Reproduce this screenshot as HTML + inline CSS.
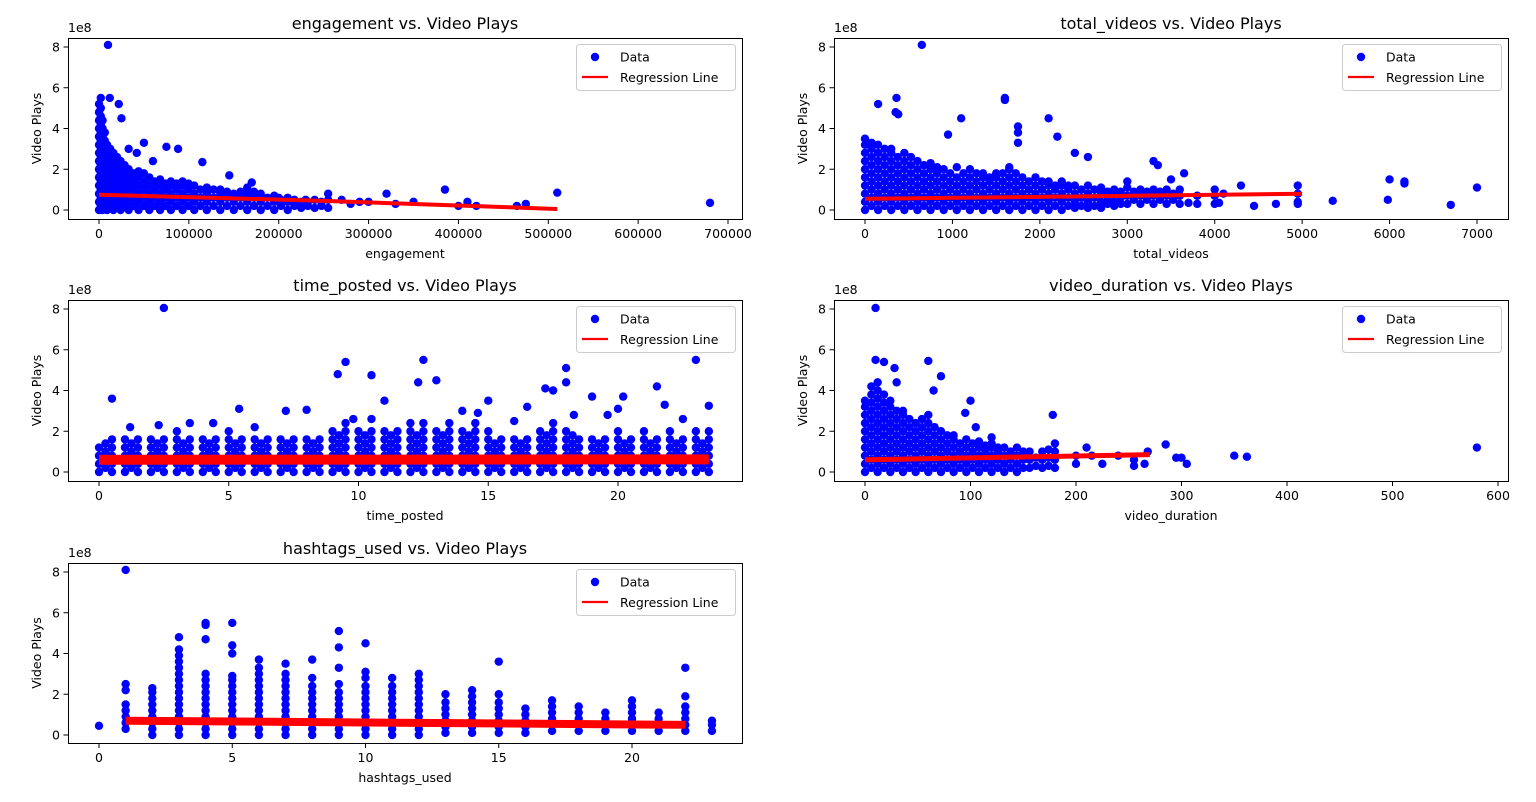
<!DOCTYPE html>
<html><head><meta charset="utf-8">
<style>
html,body{margin:0;padding:0;background:#fff;}
svg{display:block;font-family:"DejaVu Sans","Liberation Sans",sans-serif;}
</style></head>
<body>
<svg id="fig" width="1536" height="802" viewBox="0 0 1536 802" xmlns="http://www.w3.org/2000/svg"></svg>
<script>
// ---------- data (y in units of 1e8) ----------
// Plot 1: engagement
const p1Cols = [
 [0,[0,.4,.8,1.2,1.6,2,2.4,2.8,3.2,3.6,4,4.4,4.8,5.2]],
 [4000,[0,.4,.8,1.2,1.6,2,2.4,2.8,3.2,3.6,4,4.4]],
 [9000,[0,.4,.8,1.2,1.6,2,2.4,2.8,3.2]],
 [16000,[0,.4,.8,1.2,1.6,2,2.4,2.8]],
 [24000,[0,.4,.8,1.2,1.6,2,2.4]],
 [33000,[0,.4,.8,1.2,1.6,2]],
 [44000,[0,.4,.8,1.2,1.6,1.9]],
 [56000,[0,.4,.8,1.2,1.6]],
 [68000,[0,.4,.8,1.2,1.5]],
 [80000,[0,.4,.8,1.2,1.4]],
 [93000,[0,.4,.8,1.2,1.4]],
 [106000,[0,.4,.8,1.2]],
 [120000,[0,.4,.8,1.1]],
 [135000,[0,.4,.8,1.0]],
 [150000,[0,.4,.8]],
 [165000,[0,.4,.8,1.1]],
 [180000,[0,.4,.8]],
 [195000,[0,.4,.7]],
 [210000,[0,.4,.6]],
 [225000,[.1,.4]],
 [240000,[.1,.5]],
 [255000,[.1,.5,.8]]
];
const p1Fill = [
 [2000,[.2,.6,1,1.4,1.8,2.2,2.6,3,3.4,3.8,4.2,4.6,5]],
 [6500,[.2,.6,1,1.4,1.8,2.2,2.6,3,3.4,3.8]],
 [12500,[.2,.6,1,1.4,1.8,2.2,2.6,3]],
 [20000,[.2,.6,1,1.4,1.8,2.2,2.6]],
 [28500,[.2,.6,1,1.4,1.8,2.2]],
 [38500,[.2,.6,1,1.4,1.8]],
 [50000,[.2,.6,1,1.4,1.8]],
 [62000,[.2,.6,1,1.4]],
 [74000,[.2,.6,1,1.3]],
 [86500,[.2,.6,1,1.3]],
 [99500,[.2,.6,1,1.3]],
 [113000,[.2,.6,1]],
 [127500,[.2,.6,1]],
 [142500,[.2,.6,.9]],
 [157500,[.2,.6,.9]],
 [172500,[.2,.6,.9]],
 [187500,[.2,.6]],
 [202500,[.2,.5]],
 [217500,[.2,.5]],
 [232500,[.2,.4]],
 [247500,[.2,.4]]
];
const p1Out = [[10000,8.1],[2000,5.5],[12000,5.5],[22000,5.2],[25000,4.5],[50000,3.3],[42000,2.8],[33000,3.0],[75000,3.1],[88000,3.0],[115000,2.35],[60000,2.4],[145000,1.7],[170000,1.35],[280000,0.3],[300000,0.4],[320000,0.8],[350000,0.4],[385000,1.0],[400000,0.2],[410000,0.4],[420000,0.2],[465000,0.2],[475000,0.3],[510000,0.85],[680000,0.35],[230000,0.5],[200000,0.6],[270000,0.5],[330000,0.3],[290000,0.4]];
const p1RegX = [0,250000,510000];
const p1RegY = [0.75,0.45,0.05];

// Plot 2: total_videos
const p2Cols = [
 [0,[0,.4,.8,1.2,1.6,2,2.4,2.8,3.2,3.5]],
 [150,[0,.4,.8,1.2,1.6,2,2.4,2.8,3.2]],
 [300,[0,.4,.8,1.2,1.6,2,2.4,2.8,3.0]],
 [450,[0,.4,.8,1.2,1.6,2,2.4,2.8]],
 [600,[0,.4,.8,1.2,1.6,2,2.4]],
 [750,[0,.4,.8,1.2,1.6,2,2.3]],
 [900,[0,.4,.8,1.2,1.6,2]],
 [1050,[0,.4,.8,1.2,1.6,2.1]],
 [1200,[0,.4,.8,1.2,1.6,2]],
 [1350,[0,.4,.8,1.2,1.6,1.8]],
 [1500,[0,.4,.8,1.2,1.6,1.8]],
 [1650,[0,.4,.8,1.2,1.6,2,2.1]],
 [1800,[0,.4,.8,1.2,1.6]],
 [1950,[0,.4,.8,1.2,1.6]],
 [2100,[0,.4,.8,1.2,1.4]],
 [2250,[0,.4,.8,1.2,1.4]],
 [2400,[.1,.4,.8,1.2]],
 [2550,[.1,.4,.8,1.2]],
 [2700,[.1,.4,.8,1.1]],
 [2850,[.2,.4,.8,1.0]],
 [3000,[.3,.7,1.1,1.4]],
 [3150,[.3,.7,1.0]],
 [3300,[.3,.7,1.0]],
 [3450,[.3,.7,1.0]],
 [3600,[.3,.7,1.0]],
 [3800,[.3,.7]],
 [4000,[.3,.7,1.0]],
 [4950,[.4,.8,1.2]]
];
const p2Fill = [
 [75,[.2,.6,1,1.4,1.8,2.2,2.6,3,3.3]],
 [225,[.2,.6,1,1.4,1.8,2.2,2.6,3]],
 [375,[.2,.6,1,1.4,1.8,2.2,2.6]],
 [525,[.2,.6,1,1.4,1.8,2.2,2.6]],
 [675,[.2,.6,1,1.4,1.8,2.2]],
 [825,[.2,.6,1,1.4,1.8,2.1]],
 [975,[.2,.6,1,1.4,1.8]],
 [1125,[.2,.6,1,1.4,1.8]],
 [1275,[.2,.6,1,1.4,1.8]],
 [1425,[.2,.6,1,1.4,1.6]],
 [1575,[.2,.6,1,1.4,1.8]],
 [1725,[.2,.6,1,1.4,1.8]],
 [1875,[.2,.6,1,1.4]],
 [2025,[.2,.6,1,1.4]],
 [2175,[.2,.6,1,1.2]],
 [2325,[.2,.6,1,1.2]],
 [2475,[.2,.6,1]],
 [2625,[.2,.6,1]],
 [2775,[.3,.6,.9]],
 [2925,[.3,.6,.9]],
 [3075,[.5,.9]],
 [3225,[.5,.9]],
 [3375,[.5,.9]],
 [3525,[.5,.8]]
];
const p2Out = [[650,8.1],[360,5.5],[1600,5.4],[1600,5.5],[1100,4.5],[2100,4.5],[350,4.8],[150,5.2],[380,4.7],[950,3.7],[2200,3.6],[1750,4.1],[1750,3.8],[1750,3.3],[2400,2.8],[2550,2.6],[3300,2.4],[3350,2.2],[3500,1.5],[3650,1.8],[4300,1.2],[4450,0.2],[4700,0.3],[4950,0.3],[5350,0.45],[6000,1.5],[5980,0.5],[6170,1.4],[6170,1.3],[6700,0.25],[7000,1.1],[3700,0.35],[4050,0.35],[4100,0.8]];
const p2RegX = [0,2500,5000];
const p2RegY = [0.55,0.67,0.8];

// Plot 3: time_posted
const p3Cols = [
 [0,[0,.4,.8,1.2]],[0.5,[0,.4,.8,1.2,1.6]],[1,[0,.4,.8,1.2,1.6]],[1.5,[0,.4,.8,1.2,1.6]],
 [2,[0,.4,.8,1.2,1.6]],[2.5,[0,.4,.8,1.2,1.6]],[3,[0,.4,.8,1.2,1.6,2]],[3.5,[0,.4,.8,1.2,1.6]],
 [4,[0,.4,.8,1.2,1.6]],[4.5,[0,.4,.8,1.2,1.6]],[5,[0,.4,.8,1.2,1.6,2]],[5.5,[0,.4,.8,1.2,1.6]],
 [6,[0,.4,.8,1.2,1.6]],[6.5,[0,.4,.8,1.2,1.6]],[7,[0,.4,.8,1.2,1.6]],[7.5,[0,.4,.8,1.2,1.6]],
 [8,[0,.4,.8,1.2,1.6]],[8.5,[0,.4,.8,1.2,1.6]],[9,[0,.4,.8,1.2,1.6,2]],[9.5,[0,.4,.8,1.2,1.6,2,2.4]],
 [10,[0,.4,.8,1.2,1.6,2]],[10.5,[0,.4,.8,1.2,1.6,2]],[11,[0,.4,.8,1.2,1.6,2]],[11.5,[0,.4,.8,1.2,1.6,2]],
 [12,[0,.4,.8,1.2,1.6,2]],[12.5,[0,.4,.8,1.2,1.6,2,2.4]],[13,[0,.4,.8,1.2,1.6,2]],[13.5,[0,.4,.8,1.2,1.6,2,2.4]],
 [14,[0,.4,.8,1.2,1.6,2]],[14.5,[0,.4,.8,1.2,1.6,2,2.4]],[15,[0,.4,.8,1.2,1.6,2]],[15.5,[0,.4,.8,1.2,1.6]],
 [16,[0,.4,.8,1.2,1.6]],[16.5,[0,.4,.8,1.2,1.6]],[17,[0,.4,.8,1.2,1.6,2]],[17.5,[0,.4,.8,1.2,1.6,2,2.4]],
 [18,[0,.4,.8,1.2,1.6,2]],[18.5,[0,.4,.8,1.2,1.6]],[19,[0,.4,.8,1.2,1.6]],[19.5,[0,.4,.8,1.2,1.6]],
 [20,[0,.4,.8,1.2,1.6,2]],[20.5,[0,.4,.8,1.2,1.6]],[21,[0,.4,.8,1.2,1.6,2]],[21.5,[0,.4,.8,1.2,1.6]],
 [22,[0,.4,.8,1.2,1.6,2]],[22.5,[0,.4,.8,1.2,1.6]],[23,[0,.4,.8,1.2,1.6,2]],[23.5,[0,.4,.8,1.2,1.6,2]]
];
const p3Fill = [
 [0.25,[.2,.6,1,1.4]],[1.25,[.2,.6,1,1.4]],[2.25,[.2,.6,1,1.4]],[3.25,[.2,.6,1,1.4]],
 [4.25,[.2,.6,1,1.4]],[5.25,[.2,.6,1,1.4]],[6.25,[.2,.6,1,1.4]],[7.25,[.2,.6,1,1.4]],
 [8.25,[.2,.6,1,1.4]],[9.25,[.2,.6,1,1.4,1.8]],[10.25,[.2,.6,1,1.4,1.8]],[11.25,[.2,.6,1,1.4,1.8]],
 [12.25,[.2,.6,1,1.4,1.8]],[13.25,[.2,.6,1,1.4,1.8]],[14.25,[.2,.6,1,1.4,1.8]],[15.25,[.2,.6,1,1.4]],
 [16.25,[.2,.6,1,1.4]],[17.25,[.2,.6,1,1.4,1.8]],[18.25,[.2,.6,1,1.4,1.8]],[19.25,[.2,.6,1,1.4]],
 [20.25,[.2,.6,1,1.4]],[21.25,[.2,.6,1,1.4]],[22.25,[.2,.6,1,1.4]],[23.25,[.2,.6,1,1.4]]
];
const p3Out = [[2.5,8.05],[9.5,5.4],[9.2,4.8],[10.5,4.75],[12.5,5.5],[12.3,4.4],[13,4.5],[18,5.1],[17.2,4.1],[17.5,4.0],[18,4.4],[19,3.7],[20.2,3.7],[21.5,4.2],[23,5.5],[0.5,3.6],[5.4,3.1],[7.2,3.0],[8,3.05],[11,3.5],[15,3.5],[14,3.0],[16.5,3.2],[20,3.1],[23.5,3.25],[21.8,3.3],[22.5,2.6],[1.2,2.2],[2.3,2.3],[3.5,2.4],[4.4,2.4],[6,2.2],[10.5,2.6],[12,2.4],[9.8,2.6],[14.6,2.9],[16,2.5],[18.3,2.8],[19.6,2.8]];
const p3RegX = [0,23.5];
const p3RegY = [0.6,0.62];

// Plot 4: video_duration
const p4Cols = [
 [0,[0,.4,.8,1.2,1.6,2,2.4,2.8,3.2,3.5]],
 [12,[0,.4,.8,1.2,1.6,2,2.4,2.8,3.2,3.6,4,4.4]],
 [24,[0,.4,.8,1.2,1.6,2,2.4,2.8,3.2,3.5]],
 [36,[0,.4,.8,1.2,1.6,2,2.4,2.8,3]],
 [48,[0,.4,.8,1.2,1.6,2,2.4]],
 [60,[0,.4,.8,1.2,1.6,2,2.4,2.8]],
 [72,[0,.4,.8,1.2,1.6,2]],
 [84,[0,.4,.8,1.2,1.6,1.8]],
 [96,[0,.4,.8,1.2,1.6]],
 [108,[0,.4,.8,1.2,1.5]],
 [120,[0,.4,.8,1.2,1.4]],
 [132,[0,.4,.8,1.2]],
 [144,[0,.4,.8,1.2]],
 [156,[.2,.6,1.0]],
 [168,[.2,.6,1.0]],
 [180,[.2,.6,1.0,1.4]],
 [200,[.4,.8]]
];
const p4Fill = [
 [6,[.2,.6,1,1.4,1.8,2.2,2.6,3,3.4,3.8,4.2]],
 [18,[.2,.6,1,1.4,1.8,2.2,2.6,3,3.4,3.8]],
 [30,[.2,.6,1,1.4,1.8,2.2,2.6,3]],
 [42,[.2,.6,1,1.4,1.8,2.2,2.6]],
 [54,[.2,.6,1,1.4,1.8,2.2,2.6]],
 [66,[.2,.6,1,1.4,1.8,2.2]],
 [78,[.2,.6,1,1.4,1.8]],
 [90,[.2,.6,1,1.4]],
 [102,[.2,.6,1,1.4]],
 [114,[.2,.6,1,1.3]],
 [126,[.2,.6,1,1.2]],
 [138,[.2,.6,1]],
 [150,[.2,.6,1]],
 [162,[.3,.7]],
 [174,[.3,.7,1.1]]
];
const p4Out = [[10,8.05],[10,5.5],[18,5.4],[28,5.1],[60,5.45],[72,4.7],[30,4.4],[65,4.0],[100,3.5],[95,2.9],[178,2.8],[105,2.2],[120,1.7],[210,1.2],[215,0.8],[240,0.8],[255,0.3],[255,0.6],[265,0.4],[268,1.0],[285,1.35],[295,0.7],[300,0.7],[305,0.4],[350,0.8],[362,0.75],[580,1.2],[225,0.4]];
const p4RegX = [0,270];
const p4RegY = [0.6,0.85];

// Plot 5: hashtags_used
const p5Cols = [
 [0,[0.45]],
 [1,[.3,.6,.9,1.2,1.5,2.2,2.5,8.1]],
 [2,[0,.3,.6,.9,1.2,1.5,1.8,2.1,2.3]],
 [3,[0,.3,.6,.9,1.2,1.5,1.8,2.1,2.4,2.7,3,3.3,3.6,3.9,4.2,4.8]],
 [4,[0,.3,.6,.9,1.2,1.5,1.8,2.1,2.4,2.7,3,4.7,5.4,5.5]],
 [5,[0,.3,.6,.9,1.2,1.5,1.8,2.1,2.4,2.7,2.9,4,4.4,5.5]],
 [6,[0,.3,.6,.9,1.2,1.5,1.8,2.1,2.4,2.7,3,3.3,3.7]],
 [7,[0,.3,.6,.9,1.2,1.5,1.8,2.1,2.4,2.7,3,3.5]],
 [8,[0,.3,.6,.9,1.2,1.5,1.8,2.1,2.4,2.8,3.7]],
 [9,[0,.3,.6,.9,1.2,1.5,1.8,2.1,2.5,3.3,4.3,5.1]],
 [10,[0,.3,.6,.9,1.2,1.5,1.8,2.1,2.4,2.8,3.1,4.5]],
 [11,[0,.3,.6,.9,1.2,1.5,1.8,2.1,2.4,2.8]],
 [12,[0,.3,.6,.9,1.2,1.5,1.8,2.1,2.4,2.7,3]],
 [13,[.1,.4,.7,1,1.3,1.6,2]],
 [14,[.1,.4,.7,1,1.3,1.6,1.9,2.2]],
 [15,[.1,.4,.7,1,1.3,1.6,2,3.6]],
 [16,[.1,.4,.7,1,1.3]],
 [17,[.2,.5,.8,1.1,1.4,1.7]],
 [18,[.2,.5,.8,1.1,1.4]],
 [19,[.2,.5,.8,1.1]],
 [20,[.2,.5,.8,1.1,1.4,1.7]],
 [21,[.2,.5,.8,1.1]],
 [22,[.2,.5,.8,1.1,1.4,1.9,3.3]],
 [23,[.2,.5,.7]]
];
const p5Fill = [];
const p5Out = [];
const p5RegX = [1,22];
const p5RegY = [0.7,0.5];

// ---------- rendering ----------
const NS = "http://www.w3.org/2000/svg";
const fig = document.getElementById('fig');
function mk(tag, attrs, parent){
  const e = document.createElementNS(NS, tag);
  for (const k in attrs) e.setAttribute(k, attrs[k]);
  (parent||fig).appendChild(e);
  return e;
}

function drawPlot(cfg){
  const g = mk('g', {});
  
  
  const sx = v => cfg.x0px + v * (cfg.x1px - cfg.x0px) / (cfg.x1v);
  const sy = v => cfg.y0px - v * (cfg.y0px - cfg.y8px) / 8;
  const t = mk('text', {x:(cfg.l+cfg.r)/2, y:cfg.t-9, 'text-anchor':'middle', 'font-size':'16', fill:'#000'}, g);
  t.textContent = cfg.title;
  
  
  const sg = mk('g', {fill:'#0000ff'}, g);
  
  
  cfg.cols.concat(cfg.fill).forEach(c => c[1].forEach(y => {
    const d = mk('circle', {cx:sx(c[0]), cy:sy(y), r:4.2}, sg);
    
    
  }));
  cfg.out.forEach(p => {
    const d = mk('circle', {cx:sx(p[0]), cy:sy(p[1]), r:4.2}, sg);
    
    
  });
  const pts = cfg.regX.map((x,i)=> sx(x)+','+sy(cfg.regY[i])).join(' ');
  const rl = mk('polyline', {points:pts, fill:'none', stroke:'#ff0000', 'stroke-width':cfg.regW, 'stroke-linejoin':'round'}, g);
  
  
  const fr = mk('rect', {x:cfg.l+0.5, y:cfg.t+0.5, width:cfg.r-cfg.l, height:cfg.b-cfg.t, fill:'none', stroke:'#000', 'stroke-width':1}, g);
  
  
  cfg.xticks.forEach((v,i) => {
    const x = sx(v);
    mk('line', {x1:x, x2:x, y1:cfg.b+0.5, y2:cfg.b+5, stroke:'#000'}, g);
    const tl = mk('text', {x:x, y:cfg.b+19, 'text-anchor':'middle', 'font-size':'12.5', fill:'#000'}, g);
    tl.textContent = cfg.xlabels[i];
    
    
  });
  yTicks.forEach((v,i) => {
    const y = sy(v);
    mk('line', {x1:cfg.l-4.5, x2:cfg.l+0.5, y1:y, y2:y, stroke:'#000'}, g);
    const tl = mk('text', {x:cfg.l-8, y:y+4.5, 'text-anchor':'end', 'font-size':'12.5', fill:'#000'}, g);
    tl.textContent = yLabels[i];
    
    
  });
  const off = mk('text', {x:cfg.l, y:cfg.t-6, 'font-size':'12.5', fill:'#000'}, g);
  off.textContent = '1e8';
  
  
  const xl = mk('text', {x:(cfg.l+cfg.r)/2, y:cfg.b+39, 'text-anchor':'middle', 'font-size':'12.5', fill:'#000'}, g);
  xl.textContent = cfg.xTitle;
  
  
  const cy = (cfg.t+cfg.b)/2;
  const yl = mk('text', {x:cfg.l-27, y:cy, 'text-anchor':'middle', 'font-size':'12.5', fill:'#000', transform:'rotate(-90 '+(cfg.l-27)+' '+cy+')'}, g);
  yl.textContent = 'Video Plays';
  
  
  const lg = mk('g', {}, g);
  
  
  const lx = cfg.r - 166, ly = cfg.t + 6;
  mk('rect', {x:lx+0.5, y:ly+0.5, width:159, height:46, rx:3, fill:'#fff', 'fill-opacity':0.8, stroke:'#cccccc'}, lg);
  const ld = mk('circle', {cx:lx+19, cy:ly+13, r:4.2, fill:'#0000ff'}, lg);
  
  
  const l1 = mk('text', {x:lx+44, y:ly+17.5, 'font-size':'12.5', fill:'#000'}, lg);
  l1.textContent = 'Data';
  
  
  mk('line', {x1:lx+6, x2:lx+32, y1:ly+33, y2:ly+33, stroke:'#ff0000', 'stroke-width':2.2}, lg);
  const l2 = mk('text', {x:lx+44, y:ly+38, 'font-size':'12.5', fill:'#000'}, lg);
  l2.textContent = 'Regression Line';
  
  
}

const yTicks = [0,2,4,6,8];
const yLabels = ['0','2','4','6','8'];
const p1Ticks = [0,100000,200000,300000,400000,500000,600000,700000];
const p1Labels = ['0','100000','200000','300000','400000','500000','600000','700000'];
const p2Ticks = [0,1000,2000,3000,4000,5000,6000,7000];
const p2Labels = ['0','1000','2000','3000','4000','5000','6000','7000'];
const p3Ticks = [0,5,10,15,20];
const p3Labels = ['0','5','10','15','20'];
const p4Ticks = [0,100,200,300,400,500,600];
const p4Labels = ['0','100','200','300','400','500','600'];
const p5Ticks = [0,5,10,15,20];
const p5Labels = ['0','5','10','15','20'];

drawPlot({name:'engagement', title:'engagement vs. Video Plays', xTitle:'engagement', l:68,t:38,r:742,b:219, x0px:99,x1px:728,x1v:700000, y0px:210,y8px:47, cols:p1Cols,fill:p1Fill,out:p1Out,regX:p1RegX,regY:p1RegY,regW:4, xticks:p1Ticks,xlabels:p1Labels});
drawPlot({name:'total-videos', title:'total_videos vs. Video Plays', xTitle:'total_videos', l:834,t:38,r:1508,b:219, x0px:865,x1px:1477,x1v:7000, y0px:210,y8px:47, cols:p2Cols,fill:p2Fill,out:p2Out,regX:p2RegX,regY:p2RegY,regW:4, xticks:p2Ticks,xlabels:p2Labels});
drawPlot({name:'time-posted', title:'time_posted vs. Video Plays', xTitle:'time_posted', l:68,t:300,r:742,b:481, x0px:99,x1px:618,x1v:20, y0px:472,y8px:309, cols:p3Cols,fill:p3Fill,out:p3Out,regX:p3RegX,regY:p3RegY,regW:10, xticks:p3Ticks,xlabels:p3Labels});
drawPlot({name:'video-duration', title:'video_duration vs. Video Plays', xTitle:'video_duration', l:834,t:300,r:1508,b:481, x0px:865,x1px:1498,x1v:600, y0px:472,y8px:309, cols:p4Cols,fill:p4Fill,out:p4Out,regX:p4RegX,regY:p4RegY,regW:5, xticks:p4Ticks,xlabels:p4Labels});
drawPlot({name:'hashtags-used', title:'hashtags_used vs. Video Plays', xTitle:'hashtags_used', l:68,t:563,r:742,b:743, x0px:99,x1px:632,x1v:20, y0px:735,y8px:572, cols:p5Cols,fill:p5Fill,out:p5Out,regX:p5RegX,regY:p5RegY,regW:8, xticks:p5Ticks,xlabels:p5Labels});
</script>
</body></html>
